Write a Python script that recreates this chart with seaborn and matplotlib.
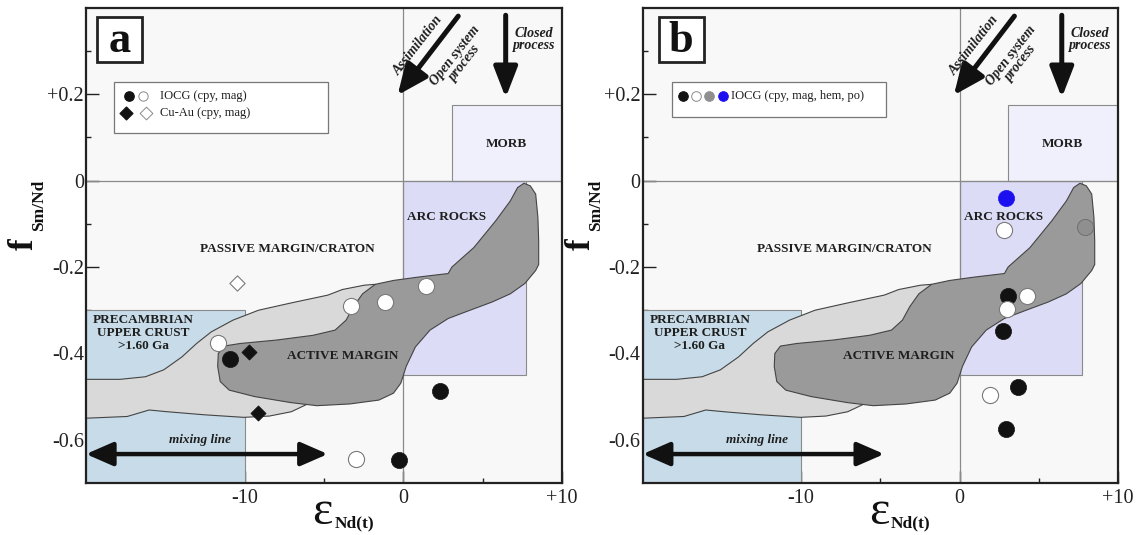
import numpy as np
import pandas as pd
import matplotlib
matplotlib.use("Agg")
import matplotlib.pyplot as plt
import seaborn as sns
from matplotlib.patches import Rectangle, Polygon

# ---------------- data ----------------
# panel a
a_iocg_filled_x = [-10.9, 2.3, -0.3]
a_iocg_filled_y = [-0.412, -0.487, -0.646]
a_iocg_open_x = [-11.7, -3.3, -1.15, 1.4, -2.97]
a_iocg_open_y = [-0.377, -0.291, -0.280, -0.245, -0.645]
a_cuau_filled_x = [-9.7, -9.13]
a_cuau_filled_y = [-0.396, -0.538]
a_cuau_open_x = [-10.5]
a_cuau_open_y = [-0.238]

# panel b
b_black_x = [3.04, 2.75, 3.66, 2.93]
b_black_y = [-0.268, -0.348, -0.477, -0.575]
b_white_x = [2.82, 4.23, 3.00, 1.90]
b_white_y = [-0.115, -0.268, -0.298, -0.496]
b_gray_x = [7.9]
b_gray_y = [-0.108]
b_blue_x = [2.93]
b_blue_y = [-0.041]

# fields (eps, f)
precambrian_x = [-20, -10]
precambrian_y = [-0.7, -0.30]
arc_x = [0, 7.7]
arc_y = [-0.45, 0]
morb_x = [3.07, 10]
morb_y = [0, 0.175]

passive_x = [-20, -17.86, -16.25, -15.1, -13.95, -13.03, -12.1, -10.74, -9.13, -7.06,
             -4.76, -3.84, -2.46, -1.77, -1.0, -5.68, -6.14, -7.06, -8.44, -10.05,
             -12.57, -14.87, -16.02, -17.4, -20]
passive_y = [-0.46, -0.46, -0.454, -0.438, -0.408, -0.377, -0.35, -0.323, -0.30, -0.283,
             -0.265, -0.252, -0.242, -0.24, -0.35, -0.508, -0.519, -0.535, -0.545, -0.548,
             -0.542, -0.535, -0.531, -0.546, -0.55]

active_x = [7.6, 8.0, 8.34, 8.48, 8.53, 8.53, 8.34, 7.66, 6.74, 5.59, 4.2, 2.83, 1.68,
            0.76, 0.18, -0.16, -0.62, -1.54, -3.38, -5.45, -7.06, -9.36, -10.97, -11.54,
            -11.7, -11.66, -11.31, -10.28, -7.98, -5.68, -4.3, -3.61, -3.15, -2.57, -1.77,
            -0.62, 0.99, 2.83, 3.06, 4.44, 5.82, 6.74, 7.2]
active_y = [-0.006, -0.012, -0.031, -0.085, -0.14, -0.194, -0.208, -0.238, -0.262, -0.281,
            -0.30, -0.319, -0.346, -0.385, -0.43, -0.469, -0.492, -0.508, -0.517, -0.521,
            -0.514, -0.50, -0.485, -0.465, -0.43, -0.40, -0.383, -0.377, -0.369, -0.358,
            -0.346, -0.323, -0.292, -0.262, -0.24, -0.231, -0.223, -0.215, -0.20, -0.155,
            -0.093, -0.047, -0.016]

x_tick_vals = [-10, 0, 10]
x_tick_labels = ["-10", "0", "+10"]
y_tick_vals = [-0.6, -0.4, -0.2, 0, 0.2]
y_tick_labels = ["-0.6", "-0.4", "-0.2", "0", "+0.2"]

# ---------------- style ----------------
sns.set_theme(style="white")
plt.rcParams["font.family"] = ["Liberation Serif", "DejaVu Serif"]

fig = plt.figure(figsize=(11.37, 5.35), dpi=100)
axA = fig.add_axes([0.0756, 0.0972, 0.4187, 0.888])
axB = fig.add_axes([0.5653, 0.0972, 0.418, 0.888])

TXT = "#1e1e1e"


def base(ax, panel, box_x0):
    ax.set_facecolor("#f8f8f8")
    ax.set_xlim(-20, 10)
    ax.set_ylim(-0.7, 0.4)
    for s in ax.spines.values():
        s.set_linewidth(1.6)
        s.set_color("#222222")
    ax.set_xticks(x_tick_vals)
    ax.set_xticklabels(x_tick_labels)
    ax.set_xticks([-15, -5, 5], minor=True)
    ax.set_yticks(y_tick_vals)
    ax.set_yticklabels(y_tick_labels)
    ax.set_yticks([-0.5, -0.3, -0.1, 0.1, 0.3], minor=True)
    ax.tick_params(which="major", direction="in", length=9, width=1.0, colors="#222222",
                   labelsize=14.5, left=True, bottom=True)
    ax.tick_params(axis="y", which="major", pad=1.5)
    ax.tick_params(axis="x", which="major", pad=4)
    ax.tick_params(which="minor", direction="in", length=3.5, width=1.0, colors="#222222",
                   left=True, bottom=True)

    # reference lines
    ax.axvline(0, color="#8a8a8a", lw=0.9, zorder=1.2)
    ax.axhline(0, color="#8a8a8a", lw=0.9, zorder=1.2)

    # fields
    ax.add_patch(Rectangle((precambrian_x[0], precambrian_y[0]), precambrian_x[1] - precambrian_x[0],
                           precambrian_y[1] - precambrian_y[0], fc="#c7dce8", ec="#8a8a8a", lw=0.8, zorder=1))
    ax.add_patch(Rectangle((arc_x[0], arc_y[0]), arc_x[1] - arc_x[0], arc_y[1] - arc_y[0],
                           fc="#dcdcf7", ec="#8a8a8a", lw=0.8, zorder=1))
    ax.add_patch(Rectangle((morb_x[0], morb_y[0]), morb_x[1] - morb_x[0], morb_y[1] - morb_y[0],
                           fc="#eff0fb", ec="#8a8a8a", lw=0.8, zorder=1))
    ax.add_patch(Polygon(np.column_stack([passive_x, passive_y]), closed=True, fc="#d9d9d9",
                         ec="#444444", lw=0.8, zorder=2))
    ax.add_patch(Polygon(np.column_stack([active_x, active_y]), closed=True, fc="#9a9a9a",
                         ec="#444444", lw=0.8, zorder=3))

    # field labels
    kw = dict(fontweight="bold", color=TXT, ha="center", va="center", zorder=4, fontsize=9.5)
    ax.text(6.5, 0.085, "MORB", **kw)
    ax.text(2.75, -0.084, "ARC ROCKS", **kw)
    ax.text(-7.3, -0.158, "PASSIVE MARGIN/CRATON", **kw)
    ax.text(-3.85, -0.406, "ACTIVE MARGIN", **kw)
    ax.text(-16.4, -0.352, "PRECAMBRIAN\nUPPER CRUST\n>1.60 Ga", linespacing=1.1, **kw)
    ax.text(-12.8, -0.6, "mixing line", fontstyle="italic", **kw)

    # arrows
    ax.annotate("", xy=(-4.76, -0.633), xytext=(-20, -0.633),
                arrowprops=dict(arrowstyle="<|-|>,head_length=0.55,head_width=0.24", lw=3.2,
                                color="#111111", shrinkA=0, shrinkB=0, mutation_scale=30),
                zorder=5)
    ax.annotate("", xy=(-0.36, 0.198), xytext=(3.46, 0.381),
                arrowprops=dict(arrowstyle="-|>,head_length=0.62,head_width=0.27", lw=3.6,
                                color="#111111", shrinkA=0, shrinkB=0, mutation_scale=30),
                zorder=5)
    ax.annotate("", xy=(6.45, 0.192), xytext=(6.45, 0.383),
                arrowprops=dict(arrowstyle="-|>,head_length=0.62,head_width=0.24", lw=3.6,
                                color="#111111", shrinkA=0, shrinkB=0, mutation_scale=30),
                zorder=5)
    akw = dict(fontweight="bold", fontstyle="italic", color=TXT, fontsize=10, zorder=5,
               ha="center", va="center", rotation=52, rotation_mode="anchor", linespacing=0.95)
    ax.text(0.9, 0.314, "Assimilation", **akw)
    ax.text(3.55, 0.281, "Open system\nprocess", **akw)
    ax.text(8.25, 0.327, "Closed\nprocess", fontweight="bold", fontstyle="italic", color=TXT,
            fontsize=10, ha="center", va="center", linespacing=0.95, zorder=5)

    # panel letter
    ax.add_patch(Rectangle((box_x0, 0.886), 0.094, 0.095, transform=ax.transAxes, fc="white",
                           ec="#222222", lw=2.0, zorder=6))
    ax.text(box_x0 + 0.047, 0.93, panel, transform=ax.transAxes, fontsize=32, fontweight="bold",
            ha="center", va="center", color="#111111", zorder=7)

    # axis labels
    ax.set_xlabel("")
    ax.set_ylabel("")
    ax.text(0.497, -0.086, "\u03b5", transform=ax.transAxes, fontsize=35, ha="center",
            va="baseline", color="#111111")
    ax.text(0.522, -0.094, "Nd(t)", transform=ax.transAxes, fontsize=12.5, fontweight="bold",
            ha="left", va="baseline", color="#111111")
    ax.text(-0.111, 0.503, "f", transform=ax.transAxes, fontsize=25, fontweight="bold",
            rotation=90, rotation_mode="anchor", ha="center", va="baseline", color="#111111")
    ax.text(-0.090, 0.585, "Sm/Nd", transform=ax.transAxes, fontsize=12.5, fontweight="bold",
            rotation=90, rotation_mode="anchor", ha="center", va="baseline", color="#111111")


base(axA, "a", 0.024)
base(axB, "b", 0.034)

# ---------------- panel a points ----------------
open_kw = dict(color="white", edgecolor="#7a7a7a", linewidth=0.8, zorder=6, legend=False)
fill_kw = dict(color="#121212", edgecolor="#121212", linewidth=0.5, zorder=7, legend=False)
sns.scatterplot(x=a_iocg_open_x, y=a_iocg_open_y, marker="o", s=135, ax=axA, **open_kw)
sns.scatterplot(x=a_cuau_open_x, y=a_cuau_open_y, marker="D", s=60, ax=axA, **open_kw)
sns.scatterplot(x=a_iocg_filled_x, y=a_iocg_filled_y, marker="o", s=135, ax=axA, **fill_kw)
sns.scatterplot(x=a_cuau_filled_x, y=a_cuau_filled_y, marker="D", s=60, ax=axA, **fill_kw)

# ---------------- panel b points ----------------
sns.scatterplot(x=b_black_x, y=b_black_y, marker="o", s=135, ax=axB, **fill_kw)
sns.scatterplot(x=b_white_x, y=b_white_y, marker="o", s=135, ax=axB,
                color="white", edgecolor="#7a7a7a", linewidth=0.8, zorder=8, legend=False)
sns.scatterplot(x=b_gray_x, y=b_gray_y, marker="o", s=135, ax=axB,
                color="#8f8f8f", edgecolor="#6a6a6a", linewidth=0.6, zorder=8, legend=False)
sns.scatterplot(x=b_blue_x, y=b_blue_y, marker="o", s=135, ax=axB,
                color="#1d10f0", edgecolor="#1d10f0", linewidth=0.5, zorder=8, legend=False)

for ax in (axA, axB):
    ax.set_xlabel("")
    ax.set_ylabel("")

# ---------------- legends (drawn boxes) ----------------
# panel a
axA.add_patch(Rectangle((0.059, 0.737), 0.449, 0.107, transform=axA.transAxes, fc="white",
                        ec="#777777", lw=0.9, zorder=8))
axA.scatter([0.0903], [0.815], s=45, marker="o", c="#121212", transform=axA.transAxes, zorder=9)
axA.scatter([0.119], [0.815], s=45, marker="o", c="white", edgecolors="#8a8a8a", linewidths=0.7,
            transform=axA.transAxes, zorder=9)
axA.scatter([0.085], [0.779], s=42, marker="D", c="#121212", transform=axA.transAxes, zorder=9)
axA.scatter([0.127], [0.779], s=42, marker="D", c="white", edgecolors="#8a8a8a", linewidths=0.7,
            transform=axA.transAxes, zorder=9)
axA.text(0.155, 0.815, "IOCG (cpy, mag)", transform=axA.transAxes, fontsize=9, va="center",
         ha="left", color=TXT, zorder=9)
axA.text(0.155, 0.779, "Cu-Au (cpy, mag)", transform=axA.transAxes, fontsize=9, va="center",
         ha="left", color=TXT, zorder=9)

# panel b
axB.add_patch(Rectangle((0.062, 0.77), 0.45, 0.074, transform=axB.transAxes, fc="white",
                        ec="#777777", lw=0.9, zorder=8))
for xx, fc, ec in [(0.084, "#121212", "#121212"), (0.111, "white", "#8a8a8a"),
                   (0.139, "#8f8f8f", "#8f8f8f"), (0.168, "#1d10f0", "#1d10f0")]:
    axB.scatter([xx], [0.815], s=48, marker="o", c=fc, edgecolors=ec, linewidths=0.7,
                transform=axB.transAxes, zorder=9)
axB.text(0.186, 0.815, "IOCG (cpy, mag, hem, po)", transform=axB.transAxes, fontsize=9,
         va="center", ha="left", color=TXT, zorder=9)

fig.savefig("out.png", dpi=100, facecolor="white")
